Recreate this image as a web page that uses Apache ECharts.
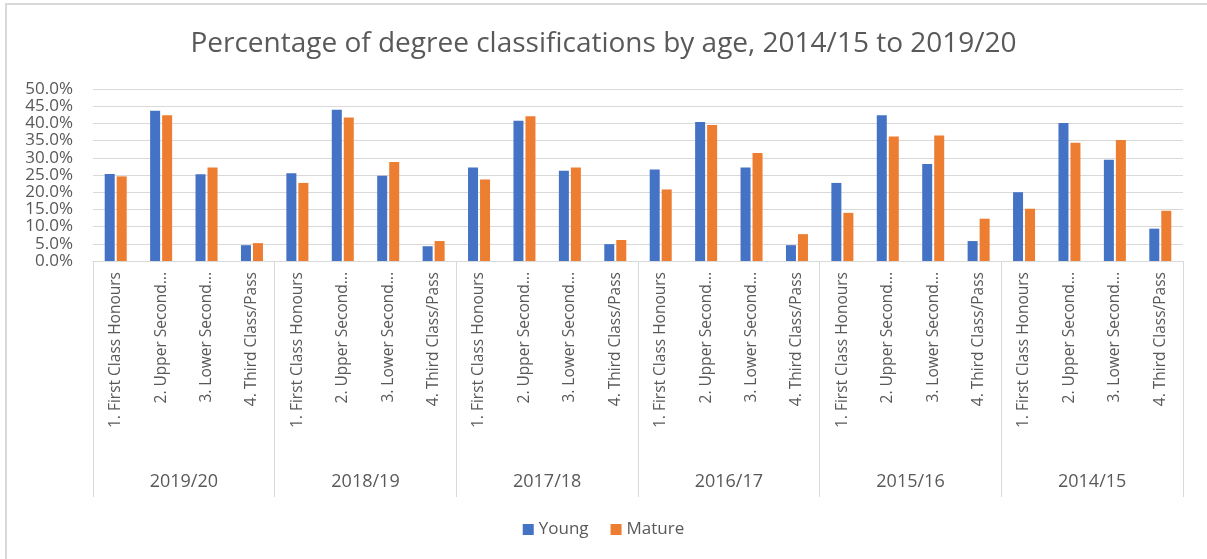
<!DOCTYPE html>
<html lang="en">
<head>
    <meta charset="UTF-8">
    <title>Degree classifications by age</title>
    <script src="https://cdn.jsdelivr.net/npm/echarts@6.0.0/dist/echarts.min.js"></script>
    <style>
        html, body {
            margin: 0;
            padding: 0;
            background: #fff;
        }
        #chart {
            width: 1207px;
            height: 559px;
        }
        #frame {
            position: absolute;
            left: 5px;
            top: 3px;
            width: 1300px;
            height: 700px;
            border: 2px solid #d9d9d9;
            pointer-events: none;
        }
    </style>
</head>
<body>
    <div id="chart"></div>
    <div id="frame"></div>

    <script>
        const years = ['2019/20', '2018/19', '2017/18', '2016/17', '2015/16', '2014/15'];
        const classes = ['1. First Class Honours', '2. Upper Second Class Honours', '3. Lower Second Class Honours', '4. Third Class/Pass'];

        // percentages, grouped by year then class
        const young = [
            25.3, 43.7, 25.2, 4.6,
            25.5, 44.0, 24.8, 4.3,
            27.2, 40.8, 26.2, 4.9,
            26.6, 40.4, 27.2, 4.6,
            22.7, 42.4, 28.2, 5.8,
            20.0, 40.1, 29.4, 9.4
        ];
        const mature = [
            24.6, 42.4, 27.2, 5.2,
            22.7, 41.7, 28.8, 5.8,
            23.7, 42.1, 27.2, 6.1,
            20.8, 39.5, 31.4, 7.8,
            14.0, 36.2, 36.5, 12.3,
            15.2, 34.4, 35.2, 14.6
        ];

        const categories = [];
        years.forEach(y => classes.forEach(c => categories.push(c)));

        const font = '"Open Sans", "Noto Sans", sans-serif';
        const grey = '#595959';

        // long names get cut after the third word, like the original axis
        function shortLabel(name) {
            if (name.length <= 22) return name;
            return name.split(' ').slice(0, 3).join(' ') + '...';
        }

        const chart = echarts.init(document.getElementById('chart'));
        chart.setOption({
            animation: false,
            textStyle: { fontFamily: font },
            title: {
                text: 'Percentage of degree classifications by age, 2014/15 to 2019/20',
                left: 'center',
                top: 25,
                textStyle: { fontFamily: font, fontSize: 28, fontWeight: 'normal', color: grey }
            },
            legend: {
                bottom: 16,
                left: 'center',
                itemWidth: 11,
                itemHeight: 11,
                itemGap: 22,
                icon: 'rect',
                textStyle: { fontFamily: font, fontSize: 17, color: grey },
                data: ['Young', 'Mature']
            },
            grid: { left: 93, right: 24, top: 89, bottom: 298 },
            xAxis: [
                {
                    type: 'category',
                    data: categories,
                    axisLine: { lineStyle: { color: '#d9d9d9', width: 1 } },
                    axisTick: { show: false },
                    axisLabel: {
                        interval: 0,
                        rotate: 90,
                        margin: 11,
                        fontFamily: font,
                        fontSize: 15.5,
                        color: grey,
                        formatter: shortLabel
                    }
                },
                {
                    type: 'category',
                    data: years,
                    position: 'bottom',
                    axisLine: { show: false },
                    axisTick: { show: true, length: 236, lineStyle: { color: '#d9d9d9', width: 1 } },
                    axisLabel: { margin: 212, fontFamily: font, fontSize: 18, color: grey }
                }
            ],
            yAxis: {
                type: 'value',
                min: 0,
                max: 50,
                interval: 5,
                axisLine: { show: false },
                axisTick: { show: false },
                splitLine: { lineStyle: { color: '#d9d9d9', width: 1 } },
                axisLabel: {
                    margin: 20,
                    fontFamily: font,
                    fontSize: 17,
                    color: grey,
                    formatter: v => v.toFixed(1) + '%'
                }
            },
            series: [
                {
                    name: 'Young',
                    type: 'bar',
                    data: young,
                    barWidth: 10,
                    barGap: '20%',
                    itemStyle: { color: '#4472c4' }
                },
                {
                    name: 'Mature',
                    type: 'bar',
                    data: mature,
                    barWidth: 10,
                    itemStyle: { color: '#ed7d31' }
                }
            ]
        });
    </script>
</body>
</html>
